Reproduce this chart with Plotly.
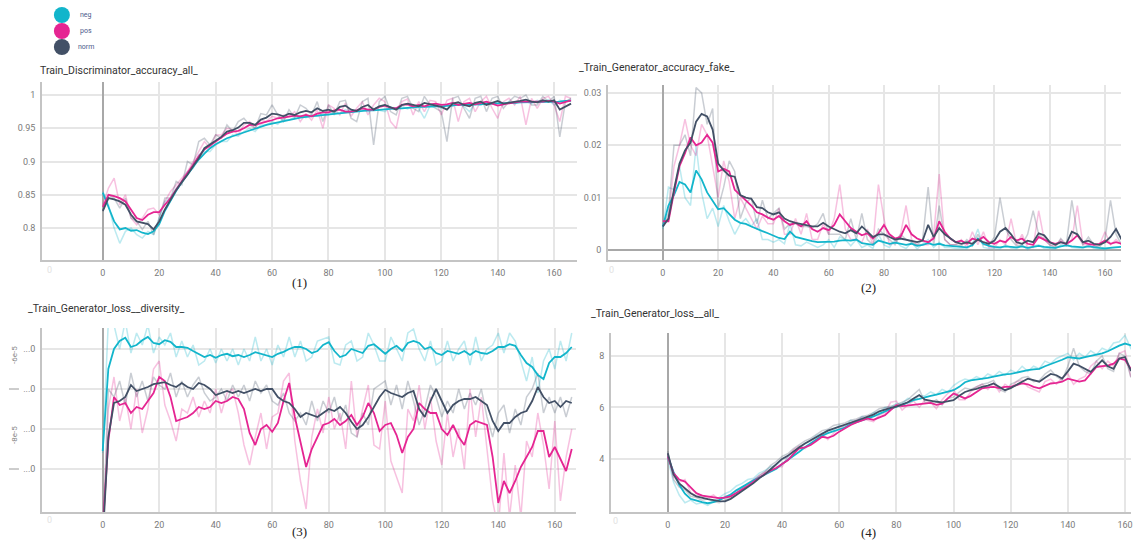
import plotly.graph_objects as go

# ---------------- data ----------------
STEPS = list(range(0, 168, 2))
SERIES = ["neg", "pos", "norm"]
COLORS = {"neg": "#12b5cb", "pos": "#e52592", "norm": "#425066"}
X_TICKS = [0, 20, 40, 60, 80, 100, 120, 140, 160]

# (1) Train_Discriminator_accuracy_all_
P1_NEG = [0.853,0.832,0.81,0.798,0.80,0.796,0.797,0.793,0.791,0.795,0.806,0.826,
          0.842,0.856,0.869,0.88,0.892,0.903,0.912,0.92,0.926,0.931,0.935,0.938,
          0.941,0.944,0.947,0.95,0.952,0.955,0.957,0.959,0.961,0.963,0.965,0.966,
          0.967,0.968,0.969,0.97,0.971,0.972,0.973,0.974,0.975,0.975,0.976,0.977,
          0.977,0.978,0.978,0.979,0.98,0.98,0.981,0.981,0.982,0.982,0.983,0.983,
          0.983,0.984,0.984,0.985,0.985,0.985,0.986,0.986,0.987,0.987,0.987,0.988,
          0.988,0.988,0.989,0.989,0.989,0.99,0.99,0.99,0.99,0.99,0.991,0.991]
P1_POS = [0.832,0.85,0.848,0.845,0.84,0.828,0.815,0.812,0.82,0.824,0.824,0.835,
          0.845,0.858,0.87,0.882,0.895,0.908,0.918,0.924,0.93,0.936,0.942,0.945,
          0.946,0.95,0.955,0.955,0.958,0.96,0.962,0.965,0.966,0.968,0.969,0.968,
          0.97,0.968,0.972,0.974,0.974,0.977,0.978,0.975,0.975,0.977,0.98,0.978,
          0.978,0.982,0.984,0.981,0.98,0.985,0.986,0.983,0.985,0.983,0.986,0.987,
          0.985,0.986,0.988,0.985,0.987,0.988,0.986,0.988,0.99,0.987,0.984,0.986,
          0.988,0.989,0.99,0.99,0.99,0.989,0.99,0.991,0.99,0.987,0.99,0.992]
P1_NORM = [0.826,0.845,0.843,0.84,0.835,0.82,0.81,0.808,0.806,0.798,0.81,0.828,
           0.843,0.857,0.869,0.88,0.893,0.905,0.92,0.926,0.932,0.937,0.945,0.947,
           0.951,0.958,0.958,0.955,0.963,0.966,0.972,0.971,0.968,0.972,0.97,0.974,
           0.976,0.974,0.98,0.976,0.978,0.975,0.982,0.984,0.978,0.976,0.982,0.985,
           0.978,0.983,0.985,0.982,0.978,0.985,0.987,0.985,0.983,0.988,0.986,0.984,
           0.982,0.978,0.987,0.989,0.985,0.983,0.988,0.99,0.985,0.988,0.991,0.987,
           0.988,0.99,0.991,0.993,0.99,0.989,0.992,0.99,0.992,0.978,0.983,0.987]
P1_NEG_RAW = [0.855,0.835,0.80,0.777,0.795,0.80,0.79,0.785,0.795,0.79,0.815,0.84,
              0.845,0.86,0.87,0.885,0.89,0.91,0.915,0.915,0.925,0.93,0.93,0.94,
              0.938,0.945,0.95,0.945,0.955,0.955,0.96,0.956,0.964,0.962,0.967,0.969,
              0.966,0.97,0.968,0.972,0.97,0.975,0.972,0.978,0.975,0.976,0.978,0.975,
              0.98,0.977,0.975,0.982,0.98,0.983,0.979,0.983,0.98,0.965,0.984,0.985,
              0.98,0.986,0.983,0.987,0.983,0.975,0.988,0.985,0.989,0.986,0.99,0.985,
              0.99,0.987,0.99,0.99,0.987,0.992,0.989,0.993,0.985,0.992,0.99,0.994]
P1_POS_RAW = [0.835,0.86,0.875,0.835,0.85,0.815,0.805,0.815,0.828,0.83,0.82,0.84,
              0.855,0.865,0.875,0.885,0.9,0.915,0.93,0.92,0.94,0.94,0.95,0.948,
              0.94,0.955,0.96,0.95,0.962,0.96,0.968,0.965,0.97,0.968,0.975,0.96,
              0.972,0.962,0.978,0.95,0.985,0.98,0.97,0.988,0.968,0.98,0.99,0.97,
              0.985,0.995,0.99,0.96,0.95,0.99,0.994,0.97,0.99,0.975,0.992,0.99,
              0.97,0.992,0.995,0.96,0.99,0.995,0.975,0.99,0.998,0.98,0.965,0.99,
              0.995,0.985,0.998,0.955,0.995,0.98,0.995,0.998,0.985,0.96,0.998,0.995]
P1_NORM_RAW = [0.825,0.85,0.845,0.83,0.845,0.815,0.81,0.798,0.81,0.79,0.815,0.845,
               0.845,0.87,0.865,0.9,0.895,0.93,0.935,0.925,0.94,0.935,0.955,0.945,
               0.96,0.965,0.955,0.95,0.972,0.97,0.985,0.97,0.96,0.978,0.966,0.985,
               0.98,0.97,0.99,0.96,0.985,0.97,0.99,0.992,0.965,0.96,0.99,0.995,
               0.925,0.99,0.998,0.975,0.97,0.995,0.998,0.98,0.975,0.998,0.985,0.98,
               0.975,0.93,0.995,0.998,0.98,0.965,0.995,0.998,0.975,0.995,0.998,0.98,
               0.99,0.998,0.995,1.0,0.985,0.985,0.998,0.99,0.998,0.937,0.99,0.995]

# (2) Train_Generator_accuracy_fake_
P2_NEG = [0.0045,0.0085,0.0105,0.013,0.0125,0.011,0.0152,0.0135,0.011,0.0095,0.0078,0.008,
          0.0068,0.0058,0.0052,0.005,0.0045,0.004,0.0036,0.0032,0.0027,0.0023,0.0021,0.0035,
          0.0025,0.0022,0.0019,0.0017,0.0015,0.0015,0.0015,0.0016,0.0018,0.0019,0.0018,0.002,
          0.0013,0.0012,0.001,0.0018,0.0015,0.0012,0.0014,0.0012,0.001,0.0012,0.0008,0.001,
          0.0013,0.001,0.0012,0.0009,0.0008,0.0007,0.0006,0.0005,0.0009,0.0022,0.0012,0.0008,
          0.0006,0.0005,0.0007,0.0006,0.0005,0.0007,0.0004,0.0006,0.0008,0.0006,0.0005,0.0004,
          0.0007,0.0009,0.0007,0.0006,0.0005,0.0007,0.0005,0.0004,0.0003,0.0004,0.0005,0.0006]
P2_POS = [0.0055,0.0055,0.011,0.016,0.0185,0.0215,0.02,0.0205,0.022,0.0205,0.015,0.0155,
          0.015,0.0115,0.0105,0.0095,0.0085,0.0072,0.0068,0.0062,0.0058,0.0065,0.0055,0.0048,
          0.0052,0.0045,0.0055,0.004,0.0035,0.0042,0.0038,0.0048,0.0068,0.0055,0.0042,0.0035,
          0.0028,0.0032,0.0022,0.0032,0.0048,0.003,0.0022,0.0025,0.0048,0.003,0.0022,0.0018,
          0.0015,0.0022,0.0055,0.0035,0.0022,0.0015,0.0018,0.0012,0.0022,0.0018,0.0025,0.0015,
          0.0012,0.0018,0.0015,0.0025,0.0018,0.0022,0.0012,0.001,0.0025,0.002,0.0015,0.0012,
          0.0015,0.0012,0.0018,0.0028,0.0015,0.0012,0.001,0.0012,0.0018,0.0012,0.0015,0.0012]
P2_NORM = [0.0045,0.006,0.0115,0.0165,0.019,0.0205,0.0245,0.026,0.0255,0.023,0.0165,0.0152,
           0.0142,0.014,0.0105,0.01,0.0098,0.0082,0.008,0.0072,0.0068,0.0072,0.006,0.0055,
           0.0052,0.005,0.0048,0.0045,0.0045,0.0052,0.0045,0.004,0.0035,0.0032,0.0038,0.0032,
           0.0045,0.0035,0.0025,0.003,0.003,0.0025,0.002,0.0022,0.002,0.0018,0.0015,0.0018,
           0.0048,0.0025,0.0042,0.003,0.0022,0.0015,0.0012,0.0015,0.0012,0.002,0.0015,0.0012,
           0.0018,0.0035,0.0042,0.003,0.0015,0.0012,0.0018,0.0015,0.0032,0.0028,0.0015,0.001,
           0.0015,0.0012,0.0035,0.003,0.0015,0.0018,0.0012,0.001,0.0015,0.0025,0.004,0.002]
P2_NEG_RAW = [0.004,0.012,0.0115,0.016,0.01,0.0085,0.02,0.011,0.006,0.008,0.0045,0.0085,
              0.0055,0.003,0.005,0.006,0.0045,0.006,0.002,0.002,0.0015,0.002,0.0012,0.005,
              0.001,0.0008,0.0015,0.001,0.0005,0.001,0.002,0.0005,0.0025,0.002,0.0008,0.002,
              0.0005,0.001,0.0003,0.003,0.001,0.0005,0.002,0.0008,0.0003,0.0015,0.0002,0.0012,
              0.002,0.0005,0.0015,0.0005,0.0005,0.0003,0.0003,0.0002,0.0012,0.004,0.0005,0.0003,
              0.0003,0.0002,0.001,0.0004,0.0002,0.001,0.0001,0.0008,0.001,0.0003,0.0003,0.0002,
              0.001,0.0012,0.0005,0.0004,0.0003,0.001,0.0003,0.0002,0.0001,0.0005,0.0006,0.0007]
P2_POS_RAW = [0.005,0.006,0.016,0.02,0.025,0.02,0.018,0.024,0.022,0.016,0.01,0.017,
              0.013,0.006,0.01,0.008,0.006,0.004,0.0065,0.005,0.005,0.008,0.003,0.003,
              0.006,0.003,0.007,0.002,0.002,0.005,0.003,0.006,0.0125,0.004,0.002,0.002,
              0.0015,0.004,0.001,0.0125,0.006,0.001,0.0015,0.003,0.0085,0.002,0.001,0.001,
              0.001,0.003,0.0145,0.002,0.001,0.001,0.002,0.0005,0.0035,0.001,0.0035,0.0005,
              0.0005,0.002,0.001,0.006,0.001,0.003,0.0005,0.0005,0.0075,0.002,0.001,0.0008,
              0.002,0.0008,0.002,0.0085,0.001,0.001,0.0005,0.001,0.0035,0.001,0.002,0.001]
P2_NORM_RAW = [0.0045,0.007,0.02,0.02,0.022,0.018,0.031,0.03,0.024,0.027,0.008,0.012,
               0.017,0.015,0.006,0.009,0.01,0.005,0.0095,0.006,0.007,0.008,0.004,0.005,
               0.005,0.0045,0.0045,0.0042,0.005,0.007,0.003,0.003,0.003,0.002,0.006,0.002,
               0.007,0.002,0.001,0.004,0.003,0.002,0.001,0.003,0.002,0.0015,0.001,0.002,
               0.012,0.001,0.0085,0.002,0.001,0.001,0.0008,0.002,0.0008,0.003,0.001,0.001,
               0.0025,0.01,0.004,0.002,0.0008,0.001,0.003,0.0075,0.003,0.002,0.001,0.0005,
               0.0022,0.001,0.0095,0.003,0.001,0.0025,0.001,0.0005,0.002,0.0095,0.003,0.001]

# (3) Train_Generator_loss__diversity_  (values in units of 1e-5)
P3_NEG = [-8.55,-6.5,-6.0,-5.8,-5.72,-5.95,-5.9,-5.78,-5.7,-5.85,-5.88,-5.78,
          -5.82,-5.95,-5.95,-5.97,-6.05,-6.12,-6.2,-6.15,-6.22,-6.15,-6.12,-6.18,
          -6.15,-6.2,-6.15,-6.08,-6.12,-6.15,-6.2,-6.12,-6.07,-6.0,-5.95,-5.95,
          -6.0,-6.1,-6.05,-5.9,-5.83,-6.05,-6.2,-6.15,-6.0,-6.05,-6.1,-5.92,
          -5.88,-6.0,-6.12,-6.0,-5.92,-6.05,-5.85,-5.8,-5.85,-6.0,-5.95,-6.1,
          -6.15,-6.05,-6.08,-6.12,-6.05,-6.15,-6.05,-6.1,-6.12,-6.05,-5.95,-5.95,
          -5.88,-5.92,-6.15,-6.35,-6.45,-6.65,-6.75,-6.35,-6.2,-6.2,-6.1,-5.95]
P3_POS = [-10.5,-8.3,-7.2,-7.4,-7.35,-7.6,-7.45,-7.5,-7.3,-7.1,-6.7,-6.8,
          -7.2,-7.8,-7.75,-7.7,-7.6,-7.45,-7.5,-7.45,-7.3,-7.35,-7.3,-7.2,
          -7.25,-7.5,-8.1,-8.4,-8.0,-7.9,-8.07,-7.85,-7.3,-6.85,-7.7,-8.35,
          -8.95,-8.5,-8.2,-7.9,-7.85,-7.75,-7.9,-7.8,-7.65,-7.9,-7.7,-7.35,
          -7.6,-8.05,-7.9,-7.85,-8.15,-8.6,-8.2,-8.0,-7.35,-7.5,-7.6,-7.6,
          -8.0,-8.15,-7.9,-8.2,-8.4,-7.9,-7.8,-7.85,-7.9,-8.7,-9.85,-9.3,
          -9.6,-9.3,-8.95,-8.7,-8.45,-8.05,-8.05,-8.7,-8.45,-8.75,-9.05,-8.5]
P3_NORM = [-10.8,-8.2,-7.35,-7.3,-7.2,-6.9,-7.05,-7.0,-6.95,-6.88,-6.85,-6.83,
           -6.9,-6.95,-6.85,-6.95,-7.0,-6.85,-6.9,-7.0,-7.15,-7.1,-7.05,-7.1,
           -7.05,-7.1,-7.05,-7.0,-7.05,-7.0,-7.0,-7.2,-7.3,-7.35,-7.5,-7.7,
           -7.6,-7.65,-7.7,-7.6,-7.5,-7.55,-7.45,-7.6,-7.82,-8.0,-7.9,-7.7,
           -7.45,-7.2,-7.02,-7.1,-7.15,-7.2,-7.1,-7.05,-7.5,-7.7,-7.3,-7.0,
           -7.3,-7.6,-7.4,-7.3,-7.25,-7.25,-7.2,-7.3,-7.4,-7.8,-8.05,-7.85,
           -7.85,-7.7,-7.6,-7.55,-7.3,-6.95,-7.2,-7.35,-7.3,-7.45,-7.3,-7.35]
P3_NEG_RAW = [-8.6,-5.3,-5.4,-6.0,-5.3,-6.1,-5.6,-5.9,-5.4,-6.1,-5.7,-5.9,
              -5.6,-6.2,-5.8,-6.2,-5.9,-6.4,-6.3,-6.0,-6.35,-6.0,-6.3,-6.0,
              -6.4,-6.0,-6.3,-5.7,-6.3,-6.0,-6.4,-5.9,-6.2,-5.7,-6.2,-5.8,
              -6.3,-6.2,-5.8,-5.75,-5.7,-6.35,-6.4,-5.9,-5.8,-6.3,-6.2,-5.6,
              -5.9,-6.3,-6.3,-5.7,-6.0,-6.3,-5.6,-5.5,-6.0,-6.3,-5.8,-6.4,
              -6.3,-5.8,-6.3,-6.0,-5.8,-6.4,-5.7,-6.3,-6.0,-5.9,-5.6,-6.1,
              -5.6,-5.8,-6.3,-6.8,-6.2,-7.1,-6.3,-6.0,-6.5,-5.8,-6.3,-5.6]
P3_POS_RAW = [-10.8,-7.5,-6.7,-7.8,-7.2,-8.0,-7.0,-8.1,-7.5,-6.5,-6.3,-7.4,
              -7.8,-8.3,-7.5,-7.6,-7.2,-7.7,-7.3,-7.6,-7.0,-7.6,-7.1,-7.0,
              -7.6,-8.4,-8.9,-8.2,-7.6,-8.5,-7.7,-7.6,-6.8,-6.6,-8.3,-9.3,
              -10.0,-8.2,-7.5,-8.1,-7.2,-8.0,-7.6,-8.5,-6.8,-8.2,-7.5,-6.9,
              -8.4,-8.5,-7.3,-8.8,-9.2,-9.6,-7.5,-7.8,-6.9,-8.0,-7.2,-8.3,
              -8.9,-7.6,-8.7,-8.0,-9.0,-7.0,-8.2,-7.2,-8.5,-9.8,-10.5,-8.6,
              -10.2,-8.9,-10.2,-8.3,-8.7,-7.6,-8.4,-9.5,-7.8,-9.8,-8.7,-8.0]
P3_NORM_RAW = [-10.8,-7.0,-7.2,-6.8,-7.4,-6.6,-7.2,-6.8,-7.3,-6.7,-6.9,-7.0,
               -6.6,-7.2,-6.8,-7.2,-6.9,-6.7,-7.1,-7.3,-7.2,-7.0,-7.3,-6.9,
               -7.2,-6.9,-7.3,-6.8,-7.1,-6.9,-7.3,-7.4,-7.1,-7.6,-7.8,-7.6,
               -7.9,-7.3,-7.8,-7.3,-7.6,-7.2,-7.8,-7.4,-8.1,-8.2,-7.6,-7.9,
               -7.0,-6.9,-6.8,-7.4,-6.9,-7.5,-6.8,-7.3,-7.9,-7.5,-6.9,-7.2,
               -7.7,-7.3,-7.6,-7.0,-7.5,-7.1,-7.4,-7.0,-7.7,-8.2,-7.6,-7.4,
               -8.1,-7.5,-7.9,-7.2,-7.0,-6.6,-7.6,-7.2,-7.6,-7.2,-7.7,-7.2]

# (4) Train_Generator_loss__all_
P4_NEG = [4.1,3.5,3.0,2.65,2.45,2.38,2.32,2.28,2.32,2.4,2.5,2.62,
          2.78,2.92,3.05,3.17,3.28,3.4,3.52,3.62,3.8,3.95,4.1,4.28,
          4.45,4.6,4.75,4.9,5.0,5.08,5.15,5.22,5.35,5.42,5.5,5.58,
          5.65,5.75,5.85,5.95,6.03,6.1,6.2,6.28,6.33,6.4,6.45,6.5,
          6.55,6.6,6.67,6.8,6.98,7.05,7.08,7.1,7.15,7.2,7.25,7.28,
          7.3,7.35,7.42,7.45,7.48,7.5,7.6,7.68,7.75,7.85,7.95,7.92,
          7.9,7.95,8.0,8.03,8.1,8.18,8.3,8.4,8.48,8.4,8.35,8.3]
P4_POS = [4.1,3.45,3.2,3.12,2.9,2.67,2.58,2.54,2.52,2.48,2.5,2.55,
          2.68,2.8,2.95,3.12,3.28,3.42,3.55,3.65,3.8,3.95,4.2,4.41,
          4.45,4.54,4.7,4.86,4.82,4.9,5.06,5.2,5.32,5.42,5.5,5.57,
          5.52,5.6,5.7,5.9,6.09,6.05,6.08,6.1,6.12,6.15,6.18,6.1,
          6.15,6.35,6.54,6.45,6.35,6.45,6.6,6.74,6.78,6.8,6.75,6.8,
          6.8,6.85,6.93,6.9,6.8,6.74,6.85,6.93,6.95,7.0,7.12,7.05,
          7.0,7.05,7.3,7.57,7.6,7.62,7.7,7.9,7.85,7.5,7.3,7.2]
P4_NORM = [4.22,3.4,3.05,2.85,2.67,2.55,2.48,2.44,2.4,2.36,2.35,2.45,
           2.6,2.75,2.9,3.06,3.25,3.4,3.6,3.8,4.0,4.12,4.3,4.45,
           4.6,4.73,4.85,5.0,5.1,5.18,5.25,5.33,5.42,5.48,5.56,5.64,
           5.72,5.85,5.92,5.98,6.03,6.1,6.2,6.35,6.48,6.3,6.25,6.22,
           6.2,6.25,6.28,6.45,6.6,6.67,6.72,6.8,6.85,6.93,6.8,6.67,
           6.75,6.86,7.0,7.12,7.05,7.0,7.15,7.3,7.25,7.12,7.4,7.7,
           7.62,7.5,7.38,7.6,7.83,7.6,7.5,7.9,7.96,7.44,7.3,7.2]
P4_NEG_RAW = [4.0,3.1,2.6,2.3,2.4,2.25,2.3,2.2,2.35,2.5,2.65,2.75,
              2.95,3.05,3.2,3.25,3.45,3.55,3.7,3.75,4.0,4.05,4.3,4.4,
              4.6,4.7,4.9,5.0,5.1,5.1,5.3,5.25,5.5,5.45,5.65,5.6,
              5.8,5.8,6.0,6.0,6.15,6.15,6.35,6.3,6.45,6.45,6.6,6.5,
              6.7,6.6,6.85,7.0,7.1,7.05,7.2,7.1,7.3,7.2,7.4,7.25,
              7.45,7.35,7.6,7.4,7.6,7.5,7.8,7.7,7.9,8.0,8.1,7.85,
              8.1,7.95,8.2,8.05,8.3,8.2,8.5,8.55,8.8,8.3,8.6,8.4]
P4_POS_RAW = [4.2,3.3,3.1,3.2,2.7,2.55,2.6,2.5,2.6,2.4,2.55,2.6,
              2.8,2.85,3.05,3.2,3.35,3.5,3.6,3.7,3.7,4.1,4.35,4.5,
              4.4,4.6,4.8,5.0,4.75,5.0,5.2,5.3,5.4,5.5,5.6,5.5,
              5.45,5.7,5.8,6.2,6.25,5.9,6.1,6.25,6.0,6.3,6.2,5.95,
              6.3,6.55,6.7,6.3,6.3,6.6,6.8,6.9,6.7,6.95,6.6,6.9,
              6.75,7.0,7.05,6.8,6.7,6.6,7.0,7.1,6.9,7.15,7.3,6.9,
              7.1,7.2,7.6,7.8,7.5,7.8,7.6,8.1,8.2,7.2,7.5,7.0]
P4_NORM_RAW = [4.3,3.2,2.9,2.8,2.55,2.5,2.4,2.45,2.35,2.3,2.4,2.55,
               2.7,2.85,3.0,3.15,3.35,3.5,3.75,3.9,4.1,4.2,4.4,4.55,
               4.7,4.8,4.95,5.1,5.15,5.3,5.35,5.4,5.5,5.55,5.65,5.7,
               5.8,5.95,6.0,6.05,6.1,6.2,6.3,6.5,6.7,6.2,6.15,6.3,
               6.1,6.35,6.4,6.6,6.75,6.7,6.8,6.9,6.95,7.05,6.7,6.6,
               6.9,7.0,7.15,7.2,7.0,7.05,7.3,7.45,7.2,7.05,7.6,8.3,
               7.6,7.4,7.3,7.8,8.0,7.5,7.4,8.1,8.0,7.2,7.4,7.1]

TITLES = ["Train_Discriminator_accuracy_all_", "_Train_Generator_accuracy_fake_",
          "_Train_Generator_loss__diversity_", "_Train_Generator_loss__all_"]
CAPTIONS = ["(1)", "(2)", "(3)", "(4)"]

P1_YTICKS = [0.8, 0.85, 0.9, 0.95, 1.0]
P1_YTEXT = ["0.8", "0.85", "0.9", "0.95", "1"]
P2_YTICKS = [0.0, 0.01, 0.02, 0.03]
P2_YTEXT = ["0", "0.01", "0.02", "0.03"]
P3_YTICKS = [-6, -7, -8, -9]
P3_YTEXT = ["...0", "...0", "...0", "...0"]
P4_YTICKS = [4, 6, 8]
P4_YTEXT = ["4", "6", "8"]

# ---------------- layout helpers ----------------
W, H = 1133, 540
def px(x):
    return x / W
def py(y):
    return 1 - y / H

panels = [
    dict(box=(42, 578, 82, 260), xr=[-21.6, 168.1], yr=[0.752, 1.0195],
         smooth=[P1_NEG, P1_POS, P1_NORM], raw=[P1_NEG_RAW, P1_POS_RAW, P1_NORM_RAW],
         yt=P1_YTICKS, ytt=P1_YTEXT, title=(38, 70), cap=(300, 282), faint=(50, 270)),
    dict(box=(609, 1123, 85, 260), xr=[-19.9, 165.8], yr=[-0.0019, 0.0315],
         smooth=[P2_NEG, P2_POS, P2_NORM], raw=[P2_NEG_RAW, P2_POS_RAW, P2_NORM_RAW],
         yt=P2_YTICKS, ytt=P2_YTEXT, title=(578, 67), cap=(870, 287), faint=(613, 270)),
    dict(box=(42, 577, 328, 512), xr=[-21.5, 167.5], yr=[-10.075, -5.475],
         smooth=[P3_NEG, P3_POS, P3_NORM], raw=[P3_NEG_RAW, P3_POS_RAW, P3_NORM_RAW],
         yt=P3_YTICKS, ytt=P3_YTEXT, title=(26, 308), cap=(300, 531), faint=(50, 520)),
    dict(box=(612, 1133, 333, 512), xr=[-19.9, 162.1], yr=[1.94, 8.89],
         smooth=[P4_NEG, P4_POS, P4_NORM], raw=[P4_NEG_RAW, P4_POS_RAW, P4_NORM_RAW],
         yt=P4_YTICKS, ytt=P4_YTEXT, title=(590, 313), cap=(870, 532), faint=(617, 521)),
]

fig = go.Figure()
layout = dict(width=W, height=H, autosize=False, margin=dict(l=0, r=0, t=0, b=0),
              paper_bgcolor="white", plot_bgcolor="white", showlegend=False,
              font=dict(family="Roboto, Arial, sans-serif"))
annotations = []
shapes = []

TICKFONT = dict(family="Roboto, Arial, sans-serif", size=9, color="#7a7a7a")

for i, p in enumerate(panels):
    n = i + 1
    xa = "x" if n == 1 else f"x{n}"
    ya = "y" if n == 1 else f"y{n}"
    x0, x1, y0, y1 = p["box"]
    for s, vals in zip(SERIES, p["raw"]):
        fig.add_trace(go.Scatter(x=STEPS, y=vals, mode="lines", xaxis=xa, yaxis=ya,
                                 line=dict(color=COLORS[s], width=1.5), opacity=0.28,
                                 hoverinfo="skip"))
    for s, vals in zip(SERIES, p["smooth"]):
        fig.add_trace(go.Scatter(x=STEPS, y=vals, mode="lines", xaxis=xa, yaxis=ya,
                                 line=dict(color=COLORS[s], width=1.8), name=s))
    xkey = "xaxis" if n == 1 else f"xaxis{n}"
    ykey = "yaxis" if n == 1 else f"yaxis{n}"
    layout[xkey] = dict(domain=[px(x0), px(x1)], range=p["xr"], anchor=ya,
                        tickvals=X_TICKS, ticktext=[str(v) for v in X_TICKS],
                        showgrid=True, gridcolor="#e6e6e6", gridwidth=1.5,
                        zeroline=True, zerolinecolor="#a8a8a8", zerolinewidth=1.5,
                        showline=True, linecolor="#c4c4c4", linewidth=1.5,
                        ticks="", ticklabelstandoff=3, ticklabeloverflow="allow",
                        tickfont=TICKFONT, fixedrange=True)
    layout[ykey] = dict(domain=[py(y1), py(y0)], range=p["yr"], anchor=xa,
                        tickvals=p["yt"], ticktext=p["ytt"],
                        showgrid=True, gridcolor="#e6e6e6", gridwidth=1.5,
                        zeroline=(n == 2), zerolinecolor="#a8a8a8", zerolinewidth=1.5,
                        showline=True, linecolor="#c4c4c4", linewidth=1.5,
                        ticks="", ticklabelstandoff=3, tickfont=TICKFONT, fixedrange=True)
    tx, ty = p["title"]
    annotations.append(dict(text=TITLES[i], x=px(tx), y=py(ty), xref="paper", yref="paper",
                            xanchor="left", yanchor="middle", showarrow=False,
                            font=dict(family="Roboto, Arial, sans-serif", size=10.5, color="#333333")))
    cx, cy = p["cap"]
    annotations.append(dict(text=CAPTIONS[i], x=px(cx), y=py(cy), xref="paper", yref="paper",
                            xanchor="center", yanchor="middle", showarrow=False,
                            font=dict(family="Liberation Serif, Times New Roman, serif", size=13, color="#222222")))
    fx, fy = p["faint"]
    annotations.append(dict(text="0", x=px(fx), y=py(fy), xref="paper", yref="paper",
                            xanchor="center", yanchor="middle", showarrow=False,
                            font=dict(family="Roboto, Arial, sans-serif", size=9, color="#e2e2e2")))

for txt, yy in [("-6e-5", 355), ("-8e-5", 435)]:
    annotations.append(dict(text=txt, x=px(14), y=py(yy), xref="paper", yref="paper",
                            textangle=-90, showarrow=False, xanchor="center", yanchor="middle",
                            font=dict(family="Roboto, Arial, sans-serif", size=8, color="#8a8a8a")))
for yy in [389, 469]:
    shapes.append(dict(type="line", xref="paper", yref="paper", x0=px(9), x1=px(19),
                       y0=py(yy), y1=py(yy), line=dict(color="#9a9a9a", width=1)))

LEG_Y = [15, 31, 47]
for s, yy in zip(SERIES, LEG_Y):
    shapes.append(dict(type="circle", xref="paper", yref="paper",
                       x0=px(54), x1=px(70), y0=py(yy + 8), y1=py(yy - 8),
                       fillcolor=COLORS[s], line=dict(color=COLORS[s], width=0)))
    annotations.append(dict(text=s, x=px(86), y=py(yy), xref="paper", yref="paper",
                            xanchor="center", yanchor="middle", showarrow=False,
                            font=dict(family="Roboto, Arial, sans-serif", size=7, color="#4a5a8a")))

layout["annotations"] = annotations
layout["shapes"] = shapes
fig.update_layout(**layout)
fig.write_html("out.html", config={"displayModeBar": False},
               post_script="document.body.style.margin='0';document.body.style.overflow='hidden';")
